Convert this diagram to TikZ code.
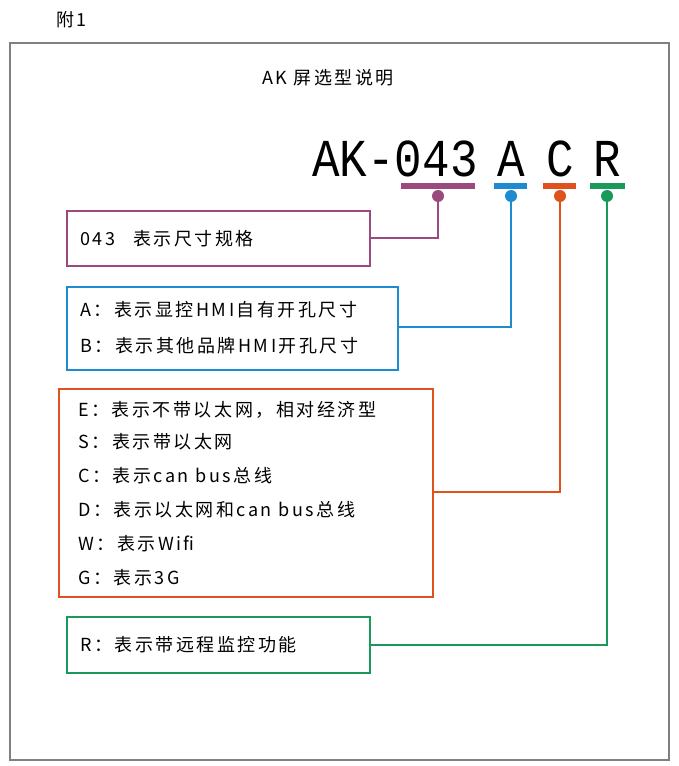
\documentclass[tikz,border=0pt]{standalone}
\usepackage{fontspec}
\newfontfamily\cjk{Noto Sans CJK SC}[LetterSpace=14]
\newfontfamily\monof{Liberation Mono}
\definecolor{cpur}{HTML}{9B4A7E}
\definecolor{cblu}{HTML}{1E8BD0}
\definecolor{cora}{HTML}{E0521B}
\definecolor{cgre}{HTML}{1A9A5A}
\begin{document}
\begin{tikzpicture}[x=0.75pt,y=-0.75pt,
  txt/.style={anchor=west,inner sep=0pt,font=\cjk\fontsize{13.5}{15}\selectfont},
  box/.style={draw=#1,line width=1.6pt},
  con/.style={draw=#1,line width=1.6pt},
  bar/.style={draw=#1,line width=4pt},
  big/.style={inner sep=0pt,anchor=base,font=\monof\fontsize{40}{44}\selectfont,xscale=0.86}]
\useasboundingbox (0,0) rectangle (678,766);
\node[txt,anchor=west] (fu) at (56,20) {附1};
\draw[gray,line width=0.8pt] (10,43) rectangle (669,760);
\node[txt,anchor=center] (title) at (328,78) {AK 屏选型说明};
\node[big] (m) at (395,177) {AK-043};
\node[big] (ta) at (511,177) {A};
\node[big] (tc) at (560,177) {C};
\node[big] (tr) at (607,177) {R};
\draw[bar=cpur] (401,186) -- (475,186);
\draw[bar=cblu] (494,186) -- (527,186);
\draw[bar=cora] (543,186) -- (576,186);
\draw[bar=cgre] (590,186) -- (625,186);
\foreach \x/\c/\n in {438/cpur/d1,511/cblu/d2,560/cora/d3,607/cgre/d4}
  \fill[\c] (\x,196) circle (4.5pt) coordinate (\n);
% boxes
\draw[box=cpur] (67,211) rectangle (370,266);
\node[txt] (t1) at (80,239) {043\quad 表示尺寸规格};
\draw[box=cblu] (67,287) rectangle (398,370);
\node[txt] (t2a) at (80,310) {A：表示显控HMI自有开孔尺寸};
\node[txt] (t2b) at (80,346) {B：表示其他品牌HMI开孔尺寸};
\draw[box=cora] (59,389) rectangle (433,597);
\node[txt] (t3a) at (78,410) {E：表示不带以太网，相对经济型};
\node[txt] (t3b) at (78,442) {S：表示带以太网};
\node[txt] (t3c) at (78,476) {C：表示can bus总线};
\node[txt] (t3d) at (78,510) {D：表示以太网和can bus总线};
\node[txt] (t3e) at (78,544) {W：表示Wifi};
\node[txt] (t3f) at (78,578) {G：表示3G};
\draw[box=cgre] (67,617) rectangle (370,673);
\node[txt] (t4) at (80,645) {R：表示带远程监控功能};
% connectors
\draw[con=cpur] (d1) -- (438,238) -- (370,238);
\draw[con=cblu] (d2) -- (511,327) -- (398,327);
\draw[con=cora] (d3) -- (560,492) -- (433,492);
\draw[con=cgre] (d4) -- (607,645) -- (370,645);
\end{tikzpicture}
\end{document}
